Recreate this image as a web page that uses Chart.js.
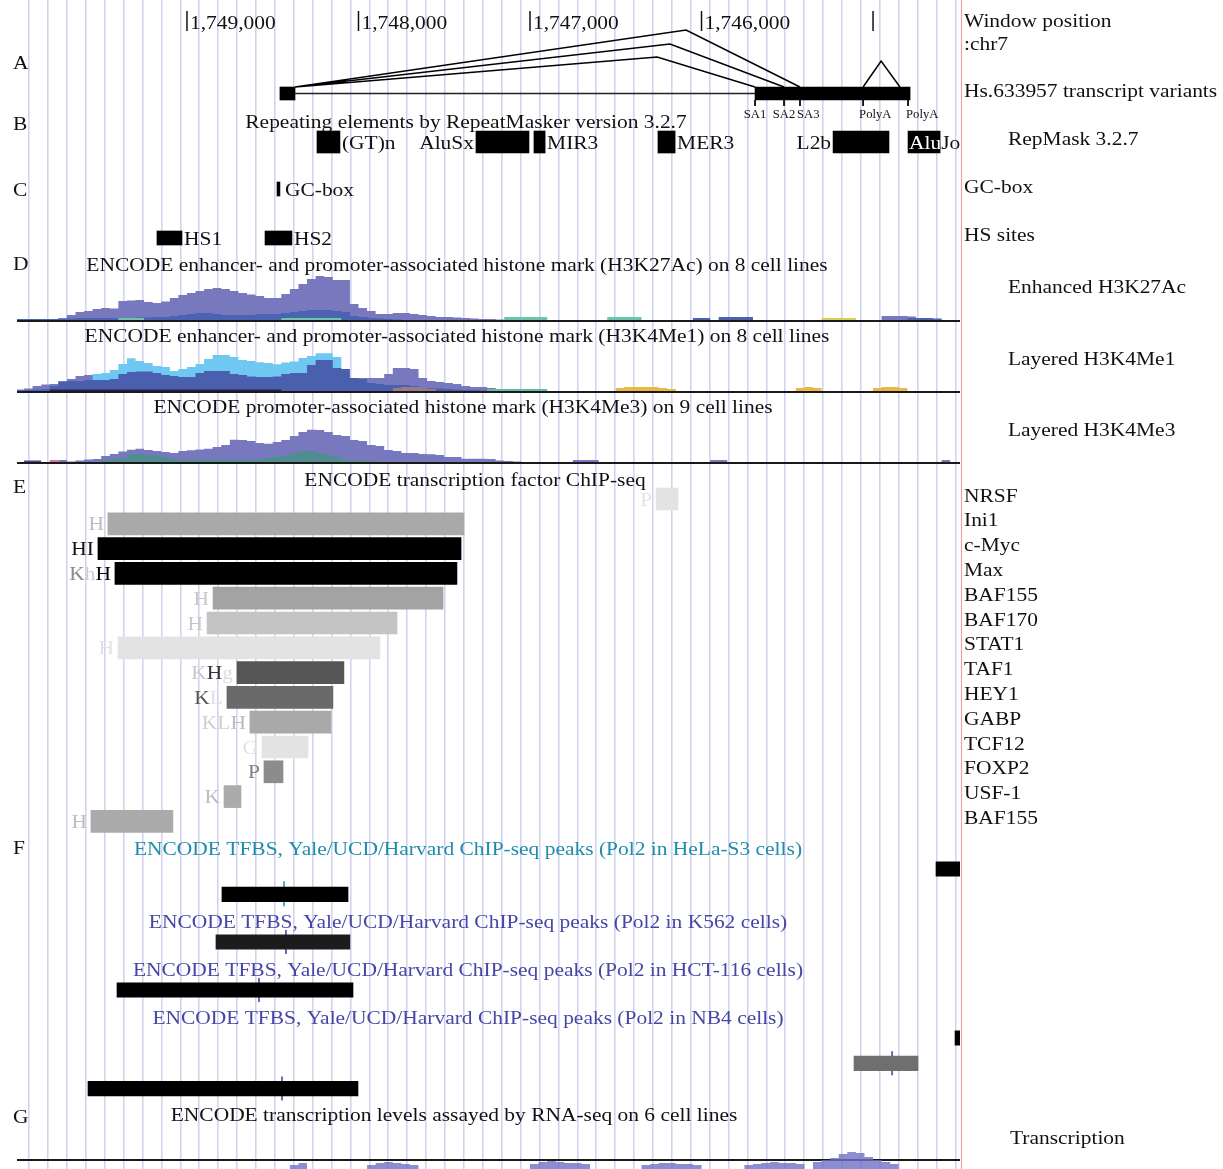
<!DOCTYPE html>
<html>
<head>
<meta charset="utf-8">
<script src="https://cdn.jsdelivr.net/npm/chart.js@4.4.1/dist/chart.umd.min.js"></script>
<style>
  html, body { margin: 0; padding: 0; background: #fff; }
  canvas { display: block; }
</style>
</head>
<body>
<canvas id="browser" width="1223" height="1169"></canvas>
<script>
// ---- window / ruler (chr7, bp) ----
const rulerPos = [1749000, 1748000, 1747000, 1746000, 1745000];
const rulerText = ['1,749,000', '1,748,000', '1,747,000', '1,746,000', ''];

// ---- A: Hs.633957 transcript variants ----
const exonStart = [1748458, 1745688];
const exonEnd = [1748370, 1744784];
const spliceDonor = 1748370;
const splicePeak = [1746090, 1746184, 1746259];
const spliceAcceptor = [1745426, 1745519, 1745688];
const siteNames = ['SA1', 'SA2', 'SA3', 'PolyA', 'PolyA'];
const sitePos = [1745688, 1745519, 1745426, 1745058, 1744796];
const polyAJunction = [1745058, 1744953, 1744843];

// ---- B: RepeatMasker 3.2.7 ----
const repNames = ['(GT)n', 'AluSx', 'MIR3', 'MER3', 'L2b', 'AluJo'];
const repStart = [1748242, 1747315, 1746977, 1746254, 1745233, 1744796];
const repEnd = [1748108, 1747006, 1746912, 1746154, 1744907, 1744609];

// ---- C: GC-box, HS sites ----
const gcBox = [1748475, 1748458];
const hsNames = ['HS1', 'HS2'];
const hsStart = [1749175, 1748545];
const hsEnd = [1749029, 1748388];

// ---- D: histone marks, 50 bp bins starting at 1,750,000 ----
const binStart = 1750000;
const binSize = 50;
const k27Purple = [
  0.5,0.5,0.5,0.5,1,2,5,8,9,11,
  12,11.5,19,19.5,20,18,17,18.5,22,25,
  27,29,31,32,31,29,27,25.5,24,22,
  22,26,31,36,41,44,43,40,40,16,
  12,9,6,6,7,7,6,5,4,3,
  3,2.5,2,1.5,1,1,0.5,0.5,0.5,0.5,
  0.5,0.5,0,0,0,0,0,0,0,0,
  0,0,0,0,0,0,0,0,0,0,
  0,0,0,0,0,0,0,0,0,0,
  0,0,0,0,0,0,0,0,0,0,
  0,4,4,4,3.5];
const k27Blue = [
  1,1,1,1,1,1,1.5,2,2,2,
  2,2,2,2,2.5,2.5,3,3,4,5,
  6,7,7,6,5,5,5,5,6,6,
  6,7,8,9,10,10,10,9,8,4,
  3,2,1.5,1,0.5,0,0,0,0,0,
  0,0,0,0,0,0,0,0,0,0,
  0,0,0,0,0,0,0,0,0,0,
  0,0,0,0,0,0,0,0,0,2,
  2,0,3,3,3,3,0,0,0,0,
  0,0,0,0,0,0,0,0,0,0,
  0,0,0,0,2,2,2,1.5];
const k27Teal = [
  0,0,0,0,0,0,0,0,0,0,
  0,0,2,2,2,0,0,0,0,0,
  0,0,0,0,0,0,0,0,0,0,
  0,2,2,2,2,2,2,2,0,0,
  0,0,0,0,0,0,0,0,0,0,
  0,0,0,0,0,0,0,3,3,3,
  3,3,0,0,0,0,0,0,0,3,
  3,3,3];
const k27Yellow = [
  0,0,0,0,0,0,0,0,0,0,
  0,0,0,0,0,0,0,0,0,0,
  0,0,0,0,0,0,0,0,0,0,
  0,0,0,0,0,0,0,0,0,0,
  0,0,0,0,0,0,0,0,0,0,
  0,0,0,0,0,0,0,0,0,0,
  0,0,0,0,0,0,0,0,0,0,
  0,0,0,0,0,0,0,0,0,0,
  0,0,0,0,0,0,0,0,0,0,
  0,0,0,0,2,2,2,2];

const me1Purple = [
  1.5,2.5,5,6.5,7,10,12,15,16,16,
  17,17,17,17,17,17,17,17,17,17,
  17,17,17,17,17,17,17,17,17,17,
  17,17,17,17,17,17,17,17,17,13,
  13,13,13,17,23,23,22,13,10,9,
  8,7,5,4,4,3,2,1.5,1,0.5];
const me1Cyan = [
  0,0,0,0,0,0,0,0,8,17,
  18,21,27,32.7,30,28,25,24,20,22,
  24,27,32,36,36,34,31,30,28.7,28,
  26.7,28.5,29.5,33,35,37.7,37.7,34,8,0];
const me1Blue = [
  0.5,1,1.5,2,5,9,10,10,11,11,
  11,12,17,19,19.5,19.5,18,16,15,14,
  14,18,20,20,20,17,16,14.5,14,14,
  14.5,17,18,18,26,31,31,23,22,13,
  12,8,7,6,6,6,5,3,2.7,2.5,
  2,1.5,1,1,0.5];
const me1Brown = [
  0,0,0,0,0,0,0,0,0,0,
  0,0,0,0,0,0,0,0,0,0,
  0,0,0,0,0,0,0,0,0,0,
  0,0,0,0,0,0,0,0,0,0,
  0,0,0,0,3,4,4,3,2];
const me1Mint = [
  0,0,0,0,0,0,0,0,0,0,
  0,0,0,0,0,0,0,0,0,0,
  0,0,0,0,0,0,0,0,0,0,
  0,0,0,0,0,0,0,0,0,0,
  0,0,0,0,0,0,0,0,0,0,
  0,0,0,0,0,2,2,2,2,2,
  2,2];
const me1Orange = [
  0,0,0,0,0,0,0,0,0,0,
  0,0,0,0,0,0,0,0,0,0,
  0,0,0,0,0,0,0,0,0,0,
  0,0,0,0,0,0,0,0,0,0,
  0,0,0,0,0,0,0,0,0,0,
  0,0,0,0,0,0,0,0,0,0,
  0,0,0,0,0,0,0,0,0,0,
  3,4,4,4,4,3,2,0,0,0,
  0,0,0,0,0,0,0,0,0,0,
  0,3,4,3,0,0,0,0,0,0,
  3,4,4,3];
const me1Dark = [
  0,0,0,0,1.5,1.5,1.5,1.5,1.5,1.5,
  1.5,1.5,1.5,1.5,1.5,1.5,1.5,1.5,1.5,1.5,
  1.5,1.5,1.5,1.5,1.5,1.5,1.5,1.5,1.5,1.5,
  1.5];

const me3Purple = [
  0,0,0,0,0,2,0.5,1.5,2.5,3,
  6,8,10.5,12.3,13.3,12,11,10,9,11,
  11.7,12.5,13.3,15,17,22.3,22,21,19,18.3,
  20,22,26,30,32.3,32,30,27,26,22,
  21,17,16,12,11,9,9,8,7.7,7,
  5,5,3.3,3.3,3.3,3,1.5,1,0.5,0,
  0,0,0,0,0,2,2,2,0,0,
  0,0,0,0,0,0,0,0,0,0,
  0,2,2,0,0,0,0,0,0,0,
  0,0,0,0,0,0,0,0,0,0,
  0,0,0,0,0,0,0,0,2];
const me3Teal = [
  0,0,0,0,0,0,0,0,0,0,
  2,3,3.5,8,8,6.7,6,5,3,2.3,
  2.3,2.3,2.3,2.3,2.3,2.3,2.3,2.3,2.3,4,
  5,6,9,11,11,9,7,5,2,1.5,
  1.5,1];
const me3Pink = [0,0,0,0,2];
const me3Navy = [0,1.5,1.5];

// ---- E: ENCODE transcription factor ChIP-seq ----
const tfNames = ['NRSF', 'Ini1', 'c-Myc', 'Max', 'BAF155', 'BAF170', 'STAT1', 'TAF1', 'HEY1', 'GABP', 'TCF12', 'FOXP2', 'USF-1', 'BAF155'];
const tfStart = [1746265, 1749461, 1749519, 1749420, 1748848, 1748883, 1749402, 1748708, 1748767, 1748633, 1748563, 1748551, 1748784, 1749560];
const tfEnd = [1746137, 1747385, 1747402, 1747426, 1747507, 1747775, 1747875, 1748085, 1748149, 1748160, 1748294, 1748440, 1748685, 1749082];
const tfCells = ['P', 'H', 'HI', 'KhH', 'H', 'H', 'H', 'KHg', 'KL', 'KLH', 'G', 'P', 'K', 'H'];

// ---- F: Pol2 ChIP-seq peaks ----
const pol2Cells = ['HeLa-S3', 'K562', 'HCT-116', 'NB4'];
const pol2Track = [0, 0, 1, 2, 3, 3, 3];
const pol2Lane = [0, 1, 0, 0, 0, 1, 2];
const pol2Start = [1744633, 1748796, 1748831, 1749408, 1744522, 1745111, 1749577];
const pol2End = [1744300, 1748061, 1748050, 1748032, 1744300, 1744738, 1748003];
const pol2Summit = [null, 1748434, 1748423, 1748580, null, 1744889, 1748446];

// ---- G: RNA-seq ----
const rnaSignal = [
  0,0,0,0,0,0,0,0,0,0,
  0,0,0,0,0,0,0,0,0,0,
  0,0,0,0,0,0,0,0,0,0,
  0,0,20,22,0,0,0,0,0,0,
  0,20,22,23,22,21,20,0,0,0,
  0,0,0,0,0,0,0,0,0,0,
  21,23,24,23,22,22,21,0,0,0,
  0,0,0,20,21,22,22,21,21,20,
  0,0,0,0,0,20,21,22,23,22,
  22,21,0,23,25,27,31,33,32,28,
  25,23,21];

// ---- layout & style (px / colours) ----
const VIEW_MIN = 1744493, VIEW_MAX = 1749991;
const GRID_FIRST = 1749920, GRID_STEP = 110.2;
const FONT = '"Liberation Serif", "DejaVu Serif", serif';
const FONT_SIZE = 19.5, TEXT_STRETCH = 1.1, TEXT_DY = 1.5;
const L = {
  exonY: 93.5, arcBase: 87, arcPeak: [30, 44, 57], polyPeak: 61, siteTick: [100, 106], siteLabel: 113,
  repY: 142, gcY: 189, hsY: 238,
  k27Base: 320, me1Base: 391, me3Base: 462, rnaLine: 1160, rnaBase: 1185,
  tfY0: 499, tfStep: 24.8,
  pol2Title: [848, 921, 969, 1017], pol2Offset: 21, pol2Step: 25.3
};
const siteAnchor = [['center', 0], ['center', 0], ['left', -3], ['left', -4], ['left', -2]];
const tfShade = ['#e3e3e3', '#a9a9a9', '#000000', '#000000', '#a3a3a3', '#c4c4c4', '#e3e3e3', '#565656', '#6a6a6a', '#a9a9a9', '#e3e3e3', '#8c8c8c', '#ababab', '#ababab'];
const tfCellShade = [
  ['#e4e4e4'], ['#bdbdbd'], ['#111', '#111'], ['#8a8a8a', '#cfcfcf', '#000'], ['#c8c8c8'], ['#c8c8c8'], ['#e2e2e2'],
  ['#c8c8c8', '#333', '#dcdcdc'], ['#555', '#e0e0e0'], ['#cfcfcf', '#cfcfcf', '#bcbcbc'], ['#e2e2e2'], ['#808080'], ['#bdbdbd'], ['#bdbdbd']];
const pol2Shade = ['#000', '#000', '#1c1c1c', '#000', '#000', '#6f6f6f', '#000'];
const pol2TitleColor = ['#1f8cab', '#4646a6', '#4646a6', '#4646a6'];

function binSeries(values) {
  const n = 111;
  const pts = [];
  for (let i = 0; i < n; i++) pts.push({ x: binStart - i * binSize, y: i < values.length ? values[i] : 0 });
  pts.push({ x: binStart - n * binSize, y: 0 });
  return pts;
}

function signal(values, axis, color, order) {
  return {
    type: 'line', data: binSeries(values), yAxisID: axis, xAxisID: 'x',
    stepped: true, fill: 'origin', backgroundColor: color,
    borderColor: 'rgba(0,0,0,0)', borderWidth: 0, pointRadius: 0, order: order
  };
}

function bars(data, thickness, colors) {
  return {
    type: 'bar', indexAxis: 'y', xAxisID: 'x', yAxisID: 'y', data: data,
    barThickness: thickness, grouped: false, backgroundColor: colors, borderWidth: 0, order: 0
  };
}

function segments(list, color, width) {
  const data = [];
  list.forEach(seg => { seg.forEach(p => data.push(p)); data.push({ x: seg[0].x, y: null }); });
  return {
    type: 'line', data: data, xAxisID: 'x', yAxisID: 'y', borderColor: color, borderWidth: width,
    pointRadius: 0, spanGaps: false, fill: false, tension: 0, order: 0
  };
}

const tfY = i => L.tfY0 + i * L.tfStep;
const pol2Y = i => L.pol2Title[pol2Track[i]] + L.pol2Offset + pol2Lane[i] * L.pol2Step;

const datasets = [
  // A
  bars(exonStart.map((s, i) => ({ x: [s, exonEnd[i]], y: L.exonY })), 13, '#000'),
  segments([[{ x: exonEnd[0], y: L.exonY }, { x: exonStart[1], y: L.exonY }]], '#222', 1.5),
  segments(splicePeak.map((p, i) => [{ x: spliceDonor, y: L.arcBase }, { x: p, y: L.arcPeak[i] }, { x: spliceAcceptor[i], y: L.arcBase }]), '#000', 1.5),
  segments([[{ x: polyAJunction[0], y: L.arcBase }, { x: polyAJunction[1], y: L.polyPeak }, { x: polyAJunction[2], y: L.arcBase }]], '#000', 1.5),
  segments(sitePos.map(p => [{ x: p, y: L.siteTick[0] }, { x: p, y: L.siteTick[1] }]), '#000', 1),
  // B, C
  bars(repStart.map((s, i) => ({ x: [s, repEnd[i]], y: L.repY })), 22, '#000'),
  bars([{ x: gcBox, y: L.gcY }], 14, '#000'),
  bars(hsStart.map((s, i) => ({ x: [s, hsEnd[i]], y: L.hsY })), 14, '#000'),
  // E
  bars(tfStart.map((s, i) => ({ x: [s, tfEnd[i]], y: tfY(i) })), 22, tfShade),
  // F
  bars(pol2Start.map((s, i) => ({ x: [s, pol2End[i]], y: pol2Y(i) })), 14.5, pol2Shade),
  segments(pol2Summit.map((p, i) => p !== null && pol2Track[i] === 0 ? [{ x: p, y: pol2Y(i) - 13 }, { x: p, y: pol2Y(i) + 12 }] : null).filter(Boolean), '#1f8cab', 1.5),
  segments(pol2Summit.map((p, i) => p !== null && pol2Track[i] > 0 ? [{ x: p, y: pol2Y(i) - 12 }, { x: p, y: pol2Y(i) + 12 }] : null).filter(Boolean), '#3c3ca8', 1.5),
  // D: H3K27Ac
  signal(k27Purple, 'sigK27', '#7878be', 9),
  signal(k27Blue, 'sigK27', '#4b63b1', 8),
  signal(k27Teal, 'sigK27', '#6cc4aa', 7),
  signal(k27Yellow, 'sigK27', '#d8cf5a', 7),
  // D: H3K4Me1
  signal(me1Purple, 'sigMe1', '#7878be', 9),
  signal(me1Cyan, 'sigMe1', '#6fc8f2', 8),
  signal(me1Blue, 'sigMe1', '#4a60ae', 7),
  signal(me1Brown, 'sigMe1', '#9a7a86', 6),
  signal(me1Mint, 'sigMe1', '#5fc0a0', 6),
  signal(me1Orange, 'sigMe1', '#e9b848', 6),
  signal(me1Dark, 'sigMe1', '#2a2050', 5),
  // D: H3K4Me3
  signal(me3Purple, 'sigMe3', '#7878be', 9),
  signal(me3Teal, 'sigMe3', '#4f8d8e', 8),
  signal(me3Pink, 'sigMe3', '#e070a8', 8),
  signal(me3Navy, 'sigMe3', '#3d4a9a', 8),
  // G
  signal(rnaSignal, 'sigRna', 'rgba(112,112,198,0.8)', 4)
];

function trackAxis(base) {
  return { type: 'linear', axis: 'y', position: 'left', display: false, offset: false, min: base - 1169, max: base };
}

function hline(ctx, x1, y, x2) { ctx.beginPath(); ctx.moveTo(x1, y); ctx.lineTo(x2, y); ctx.stroke(); }
function vline(ctx, x, y1, y2) { ctx.beginPath(); ctx.moveTo(x, y1); ctx.lineTo(x, y2); ctx.stroke(); }
function text(ctx, s, x, y, opt) {
  opt = opt || {};
  ctx.save();
  ctx.font = (opt.size || FONT_SIZE) + 'px ' + FONT;
  ctx.fillStyle = opt.color || '#111';
  ctx.textAlign = opt.align || 'left';
  ctx.textBaseline = 'middle';
  ctx.translate(x, y + TEXT_DY);
  ctx.scale(TEXT_STRETCH, 1);
  ctx.fillText(s, 0, 0);
  ctx.restore();
}
function textWidth(ctx, s) {
  ctx.font = FONT_SIZE + 'px ' + FONT;
  return ctx.measureText(s).width * TEXT_STRETCH;
}

const browserDecor = {
  id: 'browserDecor',
  beforeDatasetsDraw(chart) {
    const { ctx, chartArea: a, scales } = chart;
    ctx.save();
    ctx.strokeStyle = '#1a1a1a';
    ctx.lineWidth = 2;
    ['sigK27', 'sigMe1', 'sigMe3'].forEach(id => hline(ctx, a.left, scales[id].getPixelForValue(0) + 1, a.right));
    hline(ctx, a.left, scales.y.getPixelForValue(L.rnaLine), a.right);
    ctx.restore();
  },
  afterDatasetsDraw(chart) {
    const { ctx, chartArea: a, scales } = chart;
    const x = scales.x;
    const px = v => x.getPixelForValue(v);
    ctx.save();

    // ruler
    ctx.strokeStyle = '#111';
    ctx.lineWidth = 1.5;
    rulerPos.forEach((p, i) => {
      vline(ctx, px(p), 11, 31);
      if (rulerText[i]) text(ctx, rulerText[i], px(p) + 3, 22);
    });

    // panel letters
    [['A', 62], ['B', 123], ['C', 189], ['D', 263], ['E', 486], ['F', 847], ['G', 1116]]
      .forEach(([s, yy]) => text(ctx, s, 13, yy));

    // A: splice site labels
    siteNames.forEach((s, i) => {
      text(ctx, s, px(sitePos[i]) + siteAnchor[i][1], L.siteLabel, { size: 11.5, align: siteAnchor[i][0] });
    });

    // B: repeats
    text(ctx, 'Repeating elements by RepeatMasker version 3.2.7', 466, 121, { align: 'center' });
    const repSide = ['right', 'left', 'right', 'right', 'left', 'inside'];
    repNames.forEach((s, i) => {
      if (repSide[i] === 'right') text(ctx, s, px(repEnd[i]) + 2, L.repY);
      else if (repSide[i] === 'left') text(ctx, s, px(repStart[i]) - 2, L.repY, { align: 'right' });
      else {
        const x0 = px(repStart[i]) + 1;
        text(ctx, s, x0, L.repY);
        ctx.save();
        ctx.beginPath();
        ctx.rect(px(repStart[i]), L.repY - 11, px(repEnd[i]) - px(repStart[i]), 22);
        ctx.clip();
        text(ctx, s, x0, L.repY, { color: '#fff' });
        ctx.restore();
      }
    });

    // C
    text(ctx, 'GC-box', px(gcBox[1]) + 5, L.gcY);
    hsNames.forEach((s, i) => text(ctx, s, px(hsEnd[i]) + 2, L.hsY));

    // D titles
    text(ctx, 'ENCODE enhancer- and promoter-associated histone mark (H3K27Ac) on 8 cell lines', 457, 264, { align: 'center' });
    text(ctx, 'ENCODE enhancer- and promoter-associated histone mark (H3K4Me1) on 8 cell lines', 457, 335, { align: 'center' });
    text(ctx, 'ENCODE promoter-associated histone mark (H3K4Me3) on 9 cell lines', 463, 406, { align: 'center' });

    // E
    text(ctx, 'ENCODE transcription factor ChIP-seq', 475, 479, { align: 'center' });
    tfCells.forEach((s, i) => {
      const chars = s.split('');
      const widths = chars.map(c => textWidth(ctx, c));
      let xx = px(tfStart[i]) - 4 - widths.reduce((a2, b) => a2 + b, 0);
      chars.forEach((c, k) => { text(ctx, c, xx, tfY(i), { color: tfCellShade[i][k] }); xx += widths[k]; });
    });

    // F
    pol2Cells.forEach((c, i) => text(ctx, 'ENCODE TFBS, Yale/UCD/Harvard ChIP-seq peaks (Pol2 in ' + c + ' cells)', 468, L.pol2Title[i], { align: 'center', color: pol2TitleColor[i] }));

    // G
    text(ctx, 'ENCODE transcription levels assayed by RNA-seq on 6 cell lines', 454, 1114, { align: 'center' });

    // right-hand track labels
    const rx = a.right + 4;
    [['Window position', 0, 20], [':chr7', 0, 43], ['Hs.633957 transcript variants', 0, 90], ['RepMask 3.2.7', 44, 138],
     ['GC-box', 0, 186], ['HS sites', 0, 234], ['Enhanced H3K27Ac', 44, 286], ['Layered H3K4Me1', 44, 358],
     ['Layered H3K4Me3', 44, 429], ['Transcription', 46, 1137]]
      .forEach(([s, dx, yy]) => text(ctx, s, rx + dx, yy));
    tfNames.forEach((s, i) => text(ctx, s, rx, tfY(i) - 4));

    // window border
    ctx.strokeStyle = '#f2a2a2';
    ctx.lineWidth = 1.2;
    vline(ctx, a.right + 1.5, 0, chart.height);
    ctx.restore();
  }
};

new Chart(document.getElementById('browser'), {
  type: 'bar',
  data: { datasets: datasets },
  options: {
    responsive: false,
    animation: false,
    devicePixelRatio: 1,
    layout: { autoPadding: false, padding: { left: 17, right: 263, top: 0, bottom: 0 } },
    plugins: { legend: { display: false }, tooltip: { enabled: false } },
    scales: {
      x: {
        type: 'linear', reverse: true, offset: false, min: VIEW_MIN, max: VIEW_MAX,
        border: { display: false },
        ticks: { display: false },
        grid: { color: '#d3d3f0', lineWidth: 1.6, drawTicks: false, offset: false },
        afterBuildTicks: scale => {
          const t = [];
          for (let v = GRID_FIRST; v > VIEW_MIN; v -= GRID_STEP) t.push({ value: v });
          scale.ticks = t;
        }
      },
      y: { type: 'linear', reverse: true, offset: false, min: 0, max: 1169, display: false },
      sigK27: trackAxis(L.k27Base),
      sigMe1: trackAxis(L.me1Base),
      sigMe3: trackAxis(L.me3Base),
      sigRna: trackAxis(L.rnaBase)
    }
  },
  plugins: [browserDecor]
});
</script>
</body>
</html>
